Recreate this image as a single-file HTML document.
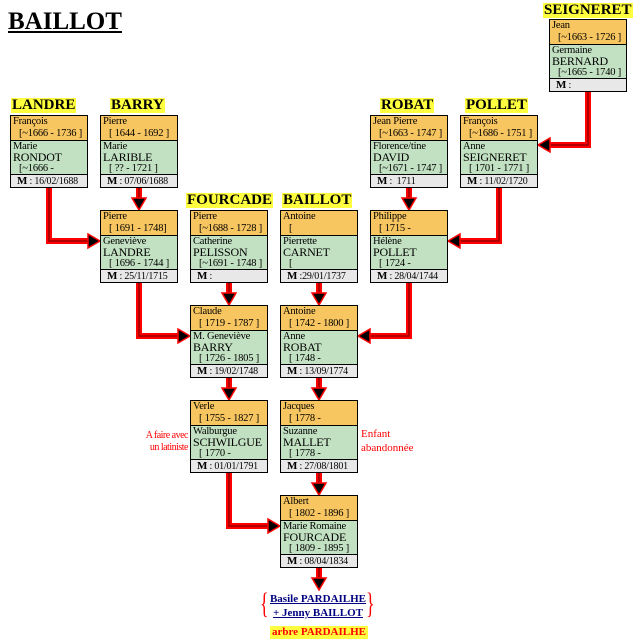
<!DOCTYPE html>
<html><head><meta charset="utf-8"><style>
body{margin:0;width:638px;height:640px;background:#fff;position:relative;overflow:hidden;font-family:"Liberation Serif",serif;}
.box{position:absolute;width:76px;border:1px solid #000;font-size:10.5px;line-height:12px;color:#000;letter-spacing:-0.2px}
.o{background:#f8c660;height:24px;padding-left:2px;border-bottom:1px solid #000;overflow:hidden;white-space:nowrap}
.g{background:#c2e0c2;height:33px;padding-left:2px;border-bottom:1px solid #000;overflow:hidden;white-space:nowrap;line-height:11px}
.g .s{font-size:12px;line-height:11px;display:block}
.m{background:#e8e8e8;height:12px;padding-left:6px;white-space:nowrap;font-size:10px;line-height:12px;overflow:hidden}
.m b{font-size:11px}
.d{padding-left:6px;display:block}
.t{position:absolute;font-weight:bold;font-size:15px;line-height:15px;background:#ffff40;padding:0 1px;}
.n{position:absolute;color:#f00;font-size:10px;line-height:12px;}
svg{position:absolute;left:0;top:0}
</style></head><body>
<div style="position:absolute;left:8px;top:8px;font-weight:bold;font-size:25px;text-decoration:underline;line-height:28px">BAILLOT</div>

<div class="t" style="left:543px;top:3px">SEIGNERET</div>
<div class="t" style="left:11px;top:98px">LANDRE</div>
<div class="t" style="left:110px;top:98px">BARRY</div>
<div class="t" style="left:380px;top:98px">ROBAT</div>
<div class="t" style="left:465px;top:98px">POLLET</div>
<div class="t" style="left:186px;top:193px">FOURCADE</div>
<div class="t" style="left:282px;top:193px">BAILLOT</div>

<svg width="638" height="640">
<g fill="none">
<g stroke="#f00" stroke-width="6">
<path d="M49 187V241H90"/><path d="M139 187V200"/><path d="M409 187V200"/>
<path d="M499 187V241H458"/><path d="M588 91V145H548"/>
<path d="M139 282V336H180"/><path d="M229 282V295"/><path d="M319 282V295"/>
<path d="M409 282V336H368"/><path d="M229 377V390"/><path d="M319 377V390"/>
<path d="M229 472V526H270"/><path d="M319 472V485"/><path d="M319 567V580"/>
</g>
<g stroke="#900" stroke-width="1.5">
<path d="M49 187V241H90"/><path d="M139 187V200"/><path d="M409 187V200"/>
<path d="M499 187V241H458"/><path d="M588 91V145H548"/>
<path d="M139 282V336H180"/><path d="M229 282V295"/><path d="M319 282V295"/>
<path d="M409 282V336H368"/><path d="M229 377V390"/><path d="M319 377V390"/>
<path d="M229 472V526H270"/><path d="M319 472V485"/><path d="M319 567V580"/>
</g>
</g>
<g fill="#000" stroke="#f00" stroke-width="1.5">
<path d="M88 234L100 241L88 248Z"/><path d="M132 198L139 210L146 198Z"/><path d="M402 198L409 210L416 198Z"/>
<path d="M460 234L448 241L460 248Z"/><path d="M550 138L538 145L550 152Z"/>
<path d="M178 329L190 336L178 343Z"/><path d="M222 293L229 305L236 293Z"/><path d="M312 293L319 305L326 293Z"/>
<path d="M370 329L358 336L370 343Z"/><path d="M222 388L229 400L236 388Z"/><path d="M312 388L319 400L326 388Z"/>
<path d="M268 519L280 526L268 533Z"/><path d="M312 483L319 495L326 483Z"/><path d="M312 578L319 590L326 578Z"/>
</g>
</svg>

<div class="box" style="left:549px;top:19px"><div class="o">Jean<span class="d">[~1663 - 1726 ]</span></div><div class="g">Germaine<span class="s">BERNARD</span><span class="d">[~1665 - 1740 ]</span></div><div class="m"><b>M</b> :</div></div>

<div class="box" style="left:10px;top:115px"><div class="o">François<span class="d">[~1666 - 1736 ]</span></div><div class="g">Marie<span class="s">RONDOT</span><span class="d">[~1666 -</span></div><div class="m"><b>M</b> : 16/02/1688</div></div>
<div class="box" style="left:100px;top:115px"><div class="o">Pierre<span class="d">[ 1644 - 1692 ]</span></div><div class="g">Marie<span class="s">LARIBLE</span><span class="d">[ ?? - 1721 ]</span></div><div class="m"><b>M</b> : 07/06/1688</div></div>
<div class="box" style="left:370px;top:115px"><div class="o">Jean Pierre<span class="d">[~1663 - 1747 ]</span></div><div class="g">Florence/tine<span class="s">DAVID</span><span class="d">[~1671 - 1747 ]</span></div><div class="m"><b>M</b> : &nbsp;1711</div></div>
<div class="box" style="left:460px;top:115px"><div class="o">François<span class="d">[~1686 - 1751 ]</span></div><div class="g">Anne<span class="s">SEIGNERET</span><span class="d">[ 1701 - 1771 ]</span></div><div class="m"><b>M</b> : 11/02/1720</div></div>

<div class="box" style="left:100px;top:210px"><div class="o">Pierre<span class="d">[ 1691 - 1748]</span></div><div class="g">Geneviève<span class="s">LANDRE</span><span class="d">[ 1696 - 1744 ]</span></div><div class="m"><b>M</b> : 25/11/1715</div></div>
<div class="box" style="left:190px;top:210px"><div class="o">Pierre<span class="d">[~1688 - 1728 ]</span></div><div class="g">Catherine<span class="s">PELISSON</span><span class="d">[~1691 - 1748 ]</span></div><div class="m"><b>M</b> :</div></div>
<div class="box" style="left:280px;top:210px"><div class="o">Antoine<span class="d">[</span></div><div class="g">Pierrette<span class="s">CARNET</span><span class="d">[</span></div><div class="m"><b>M</b> :29/01/1737</div></div>
<div class="box" style="left:370px;top:210px"><div class="o">Philippe<span class="d">[ 1715 -</span></div><div class="g">Hélène<span class="s">POLLET</span><span class="d">[ 1724 -</span></div><div class="m"><b>M</b> : 28/04/1744</div></div>

<div class="box" style="left:190px;top:305px"><div class="o">Claude<span class="d">[ 1719 - 1787 ]</span></div><div class="g">M. Geneviève<span class="s">BARRY</span><span class="d">[ 1726 - 1805 ]</span></div><div class="m"><b>M</b> : 19/02/1748</div></div>
<div class="box" style="left:280px;top:305px"><div class="o">Antoine<span class="d">[ 1742 - 1800 ]</span></div><div class="g">Anne<span class="s">ROBAT</span><span class="d">[ 1748 -</span></div><div class="m"><b>M</b> : 13/09/1774</div></div>

<div class="box" style="left:190px;top:400px"><div class="o">Verle<span class="d">[ 1755 - 1827 ]</span></div><div class="g">Walburgue<span class="s">SCHWILGUE</span><span class="d">[ 1770 -</span></div><div class="m"><b>M</b> : 01/01/1791</div></div>
<div class="box" style="left:280px;top:400px"><div class="o">Jacques<span class="d">[ 1778 -</span></div><div class="g">Suzanne<span class="s">MALLET</span><span class="d">[ 1778 -</span></div><div class="m"><b>M</b> : 27/08/1801</div></div>

<div class="box" style="left:280px;top:495px"><div class="o">Albert<span class="d">[ 1802 - 1896 ]</span></div><div class="g">Marie Romaine<span class="s">FOURCADE</span><span class="d">[ 1809 - 1895 ]</span></div><div class="m"><b>M</b> : 08/04/1834</div></div>

<div class="n" style="left:136px;top:430px;text-align:right;width:52px;letter-spacing:-0.5px">A faire avec un latiniste</div>
<div class="n" style="left:361px;top:427px;font-size:11px;line-height:14px">Enfant<br>abandonnée</div>

<div style="position:absolute;left:260px;top:588px;color:#f00;font-size:30px;line-height:32px;transform:scaleX(0.6);transform-origin:left">{</div>
<div style="position:absolute;left:366px;top:588px;color:#f00;font-size:30px;line-height:32px;transform:scaleX(0.6);transform-origin:left">}</div>
<div style="position:absolute;left:268px;top:592px;width:100px;text-align:center;color:#000080;font-weight:bold;font-size:11px;line-height:14px;text-decoration:underline">Basile PARDAILHE<br>+ Jenny BAILLOT</div>
<div style="position:absolute;left:270px;top:626px;background:#ffff40;color:#f00;font-weight:bold;font-size:11px;line-height:13px;padding:0 2px">arbre PARDAILHE</div>
</body></html>
